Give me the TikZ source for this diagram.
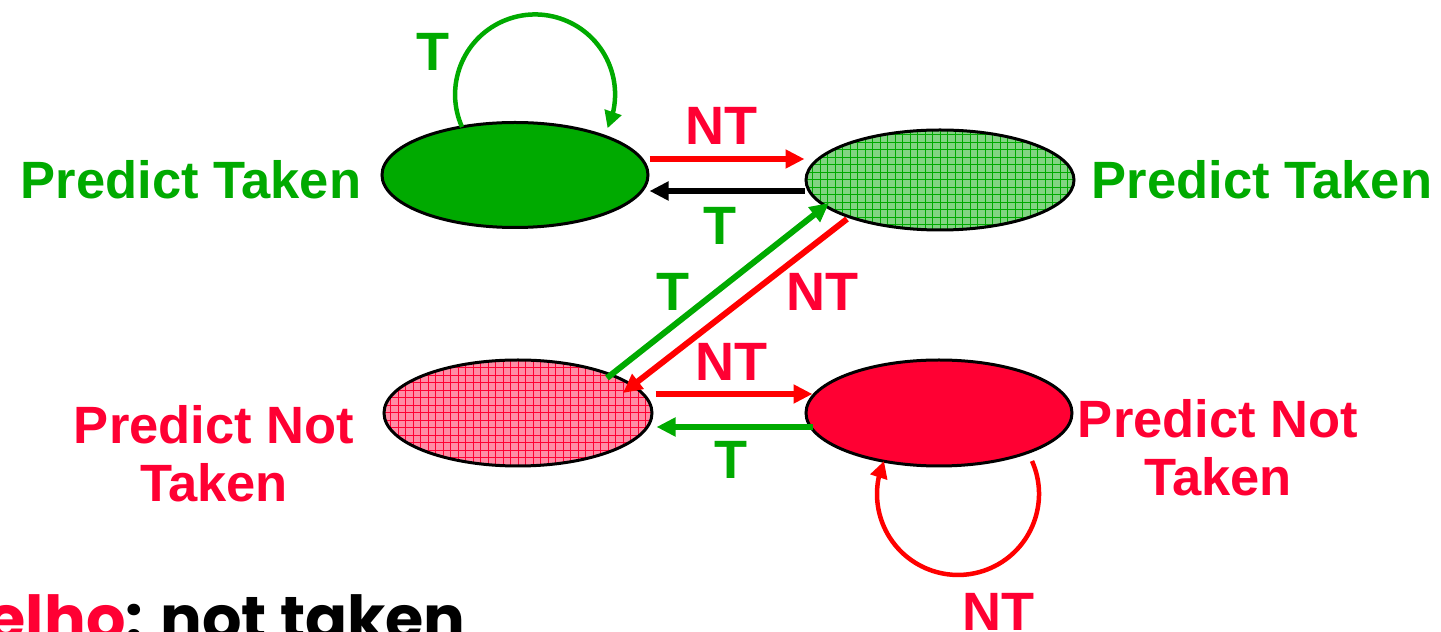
\documentclass[tikz,border=0pt]{standalone}
\usepackage{fontspec}
\setmainfont{Liberation Sans}
\newfontfamily\comicfont{Poppins}
\usetikzlibrary{arrows.meta,bending,shapes.geometric}
\definecolor{tgreen}{RGB}{0,170,0}
\definecolor{tred}{RGB}{255,0,51}
\definecolor{ared}{RGB}{255,0,0}
\definecolor{lgreen}{RGB}{130,212,130}
\definecolor{lpink}{RGB}{255,140,165}
\begin{document}
\begin{tikzpicture}[x=1pt,y=1pt,
 state/.style={ellipse, draw=black, line width=3pt, inner sep=0pt},
 hatched/.style 2 args={path picture={
   \fill[#1] (path picture bounding box.south west) rectangle (path picture bounding box.north east);
   \draw[#2, line width=1pt, step=7.5pt] (path picture bounding box.south west) grid (path picture bounding box.north east);}},
 lab/.style={font=\fontsize{52.5}{58}\selectfont\bfseries, inner sep=0pt, align=center},
 edgelab/.style={font=\fontsize{54}{60}\selectfont\bfseries, inner sep=0pt},
 arr/.style={line width=6pt, -{Triangle[length=19pt,width=18pt]}},
 looparr/.style={line width=4.5pt, -{Triangle[length=17pt,width=17pt]}},
]
\useasboundingbox (0,0) rectangle (1441,632);
\clip (0,0) rectangle (1441,632);

% states
\node[state, fill=tgreen, minimum width=266pt, minimum height=105pt] (tl) at (515,457) {};
\node[state, hatched={lgreen}{tgreen}, minimum width=268pt, minimum height=100pt] (tr) at (940,452) {};
\node[state, hatched={lpink}{tred}, minimum width=268pt, minimum height=106pt] (bl) at (518,219) {};
\node[state, fill=tred, minimum width=266pt, minimum height=106pt] (br) at (939,219) {};

% state labels
\node[lab, text=tgreen, anchor=base] (ptl) at (191,433) {Predict Taken};
\node[lab, text=tgreen, anchor=base] (ptr) at (1262,433) {Predict Taken};
\node[lab, text=tred, anchor=north] (pnl) at (214,227) {Predict Not\\Taken};
\node[lab, text=tred, anchor=north] (pnr) at (1218,233) {Predict Not\\Taken};

% transitions
\draw[looparr, tgreen] ([shift={(-53,48)}]tl.center) arc[start angle=204, end angle=-25, radius=80];
\draw[arr, ared] ([yshift=16pt]tl.east) -- ([yshift=21pt]tr.west);
\draw[arr, black] ([yshift=-11pt]tr.west) -- ([yshift=-16pt]tl.east);
\draw[arr, tgreen] ([shift={(89,35)}]bl.center) -- ([shift={(-111,-23)}]tr.center);
\draw[arr, ared] ([shift={(-93,-39)}]tr.center) -- ([shift={(105,20)}]bl.center);
\draw[arr, ared] ([shift={(2,19)}]bl.east) -- ([shift={(8,19)}]br.west);
\draw[arr, tgreen] ([shift={(8,-14)}]br.west) -- ([shift={(3,-14)}]bl.east);
\draw[looparr, ared] ([shift={(93,-48)}]br.center) arc[start angle=24, end angle=-204, radius=81];

% transition labels
\node[edgelab, text=tgreen] (e1) at (433,580) {T};
\node[edgelab, text=tred] (e2) at (721,506) {NT};
\node[edgelab, text=tgreen] (e3) at (720,406) {T};
\node[edgelab, text=tgreen] (e4) at (673,340) {T};
\node[edgelab, text=tred] (e5) at (822,340) {NT};
\node[edgelab, text=tred] (e6) at (731,270) {NT};
\node[edgelab, text=tgreen] (e7) at (731,172) {T};
\node[edgelab, text=tred] (e8) at (998,20) {NT};

% cut-off note
\node[anchor=base east, inner sep=0pt, font=\comicfont\bfseries\fontsize{62}{62}\selectfont] (note) at (466,-9) {\textcolor{tred}{elho}: not taken};
\end{tikzpicture}
\end{document}
